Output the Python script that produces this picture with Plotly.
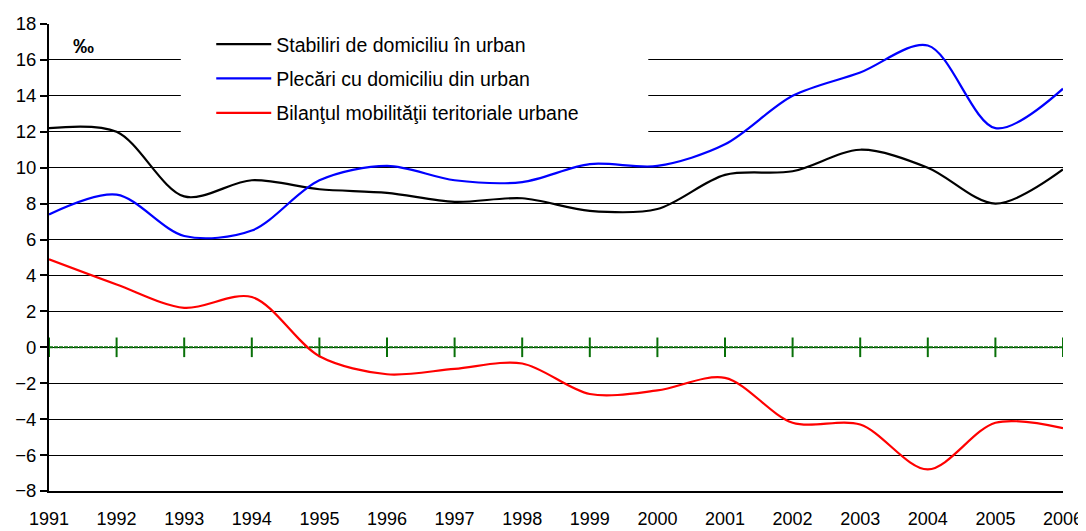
import plotly.graph_objects as go

years = list(range(1991, 2007))
stabiliri = [12.2, 12.0, 8.4, 9.3, 8.8, 8.6, 8.1, 8.3, 7.6, 7.7, 9.6, 9.8, 11.0, 10.0, 8.0, 9.9]
plecari = [7.4, 8.5, 6.2, 6.5, 9.3, 10.1, 9.3, 9.2, 10.2, 10.1, 11.3, 14.0, 15.3, 16.8, 12.2, 14.4]
bilant = [4.9, 3.5, 2.2, 2.8, -0.5, -1.5, -1.2, -0.9, -2.6, -2.4, -1.7, -4.2, -4.3, -6.8, -4.2, -4.5]
zero = [0] * len(years)
names = ["Stabiliri de domiciliu în urban", "Plecări cu domiciliu din urban",
         "Bilanţul mobilităţii teritoriale urbane"]
ytick_vals = list(range(-8, 19, 2))

FONT = "Arial, Liberation Sans, sans-serif"

fig = go.Figure()
fig.add_trace(go.Scatter(x=years, y=zero, mode="lines+markers", showlegend=False,
                         line=dict(color="#087008", width=2, dash="4px,1px"),
                         marker=dict(symbol="line-ns", size=14,
                                     line=dict(color="#087008", width=2))))
for vals, color, name in zip([stabiliri, plecari, bilant], ["#000000", "#0000ff", "#ff0000"], names):
    fig.add_trace(go.Scatter(x=years, y=vals, mode="lines", name=name, legendgroup=name,
                             line=dict(color=color, width=2.2, shape="spline", smoothing=0.9)))

# white legend box covering the gridlines
fig.add_shape(type="rect", xref="paper", yref="y", x0=0.13, x1=0.591, y0=11.5, y1=17.93,
              fillcolor="white", line=dict(width=0), layer="above")

fig.add_annotation(text="<b>‰</b>", xref="paper", yref="y", x=0.022, y=16.8,
                   showarrow=False, font=dict(family=FONT, size=21, color="black"))

# page body has an 8px margin: figure is 8px smaller and margins compensate
fig.update_layout(
    width=1078, height=523,
    margin=dict(l=41, r=23, t=16, b=40),
    paper_bgcolor="white", plot_bgcolor="white",
    font=dict(family=FONT, size=18, color="black"),
    legend=dict(x=0.16, y=0.998, xanchor="left", yanchor="top", bgcolor="rgba(0,0,0,0)",
                font=dict(family=FONT, size=19.5, color="black"), tracegroupgap=6,
                itemwidth=55),
    xaxis=dict(range=[1991, 2006], tickvals=years, ticktext=[str(y) for y in years],
               showgrid=False, zeroline=False, showline=True, linecolor="black", linewidth=2,
               ticks="", ticklabelstandoff=10, tickfont=dict(size=18), automargin=False),
    yaxis=dict(range=[-8, 18], tickvals=ytick_vals, showgrid=True, gridcolor="black", gridwidth=1,
               zeroline=False, showline=True, linecolor="black", linewidth=2,
               ticks="outside", ticklen=7, tickwidth=2, tickcolor="black",
               tickfont=dict(size=18.5), automargin=False),
)

fig.write_html("out.html")
